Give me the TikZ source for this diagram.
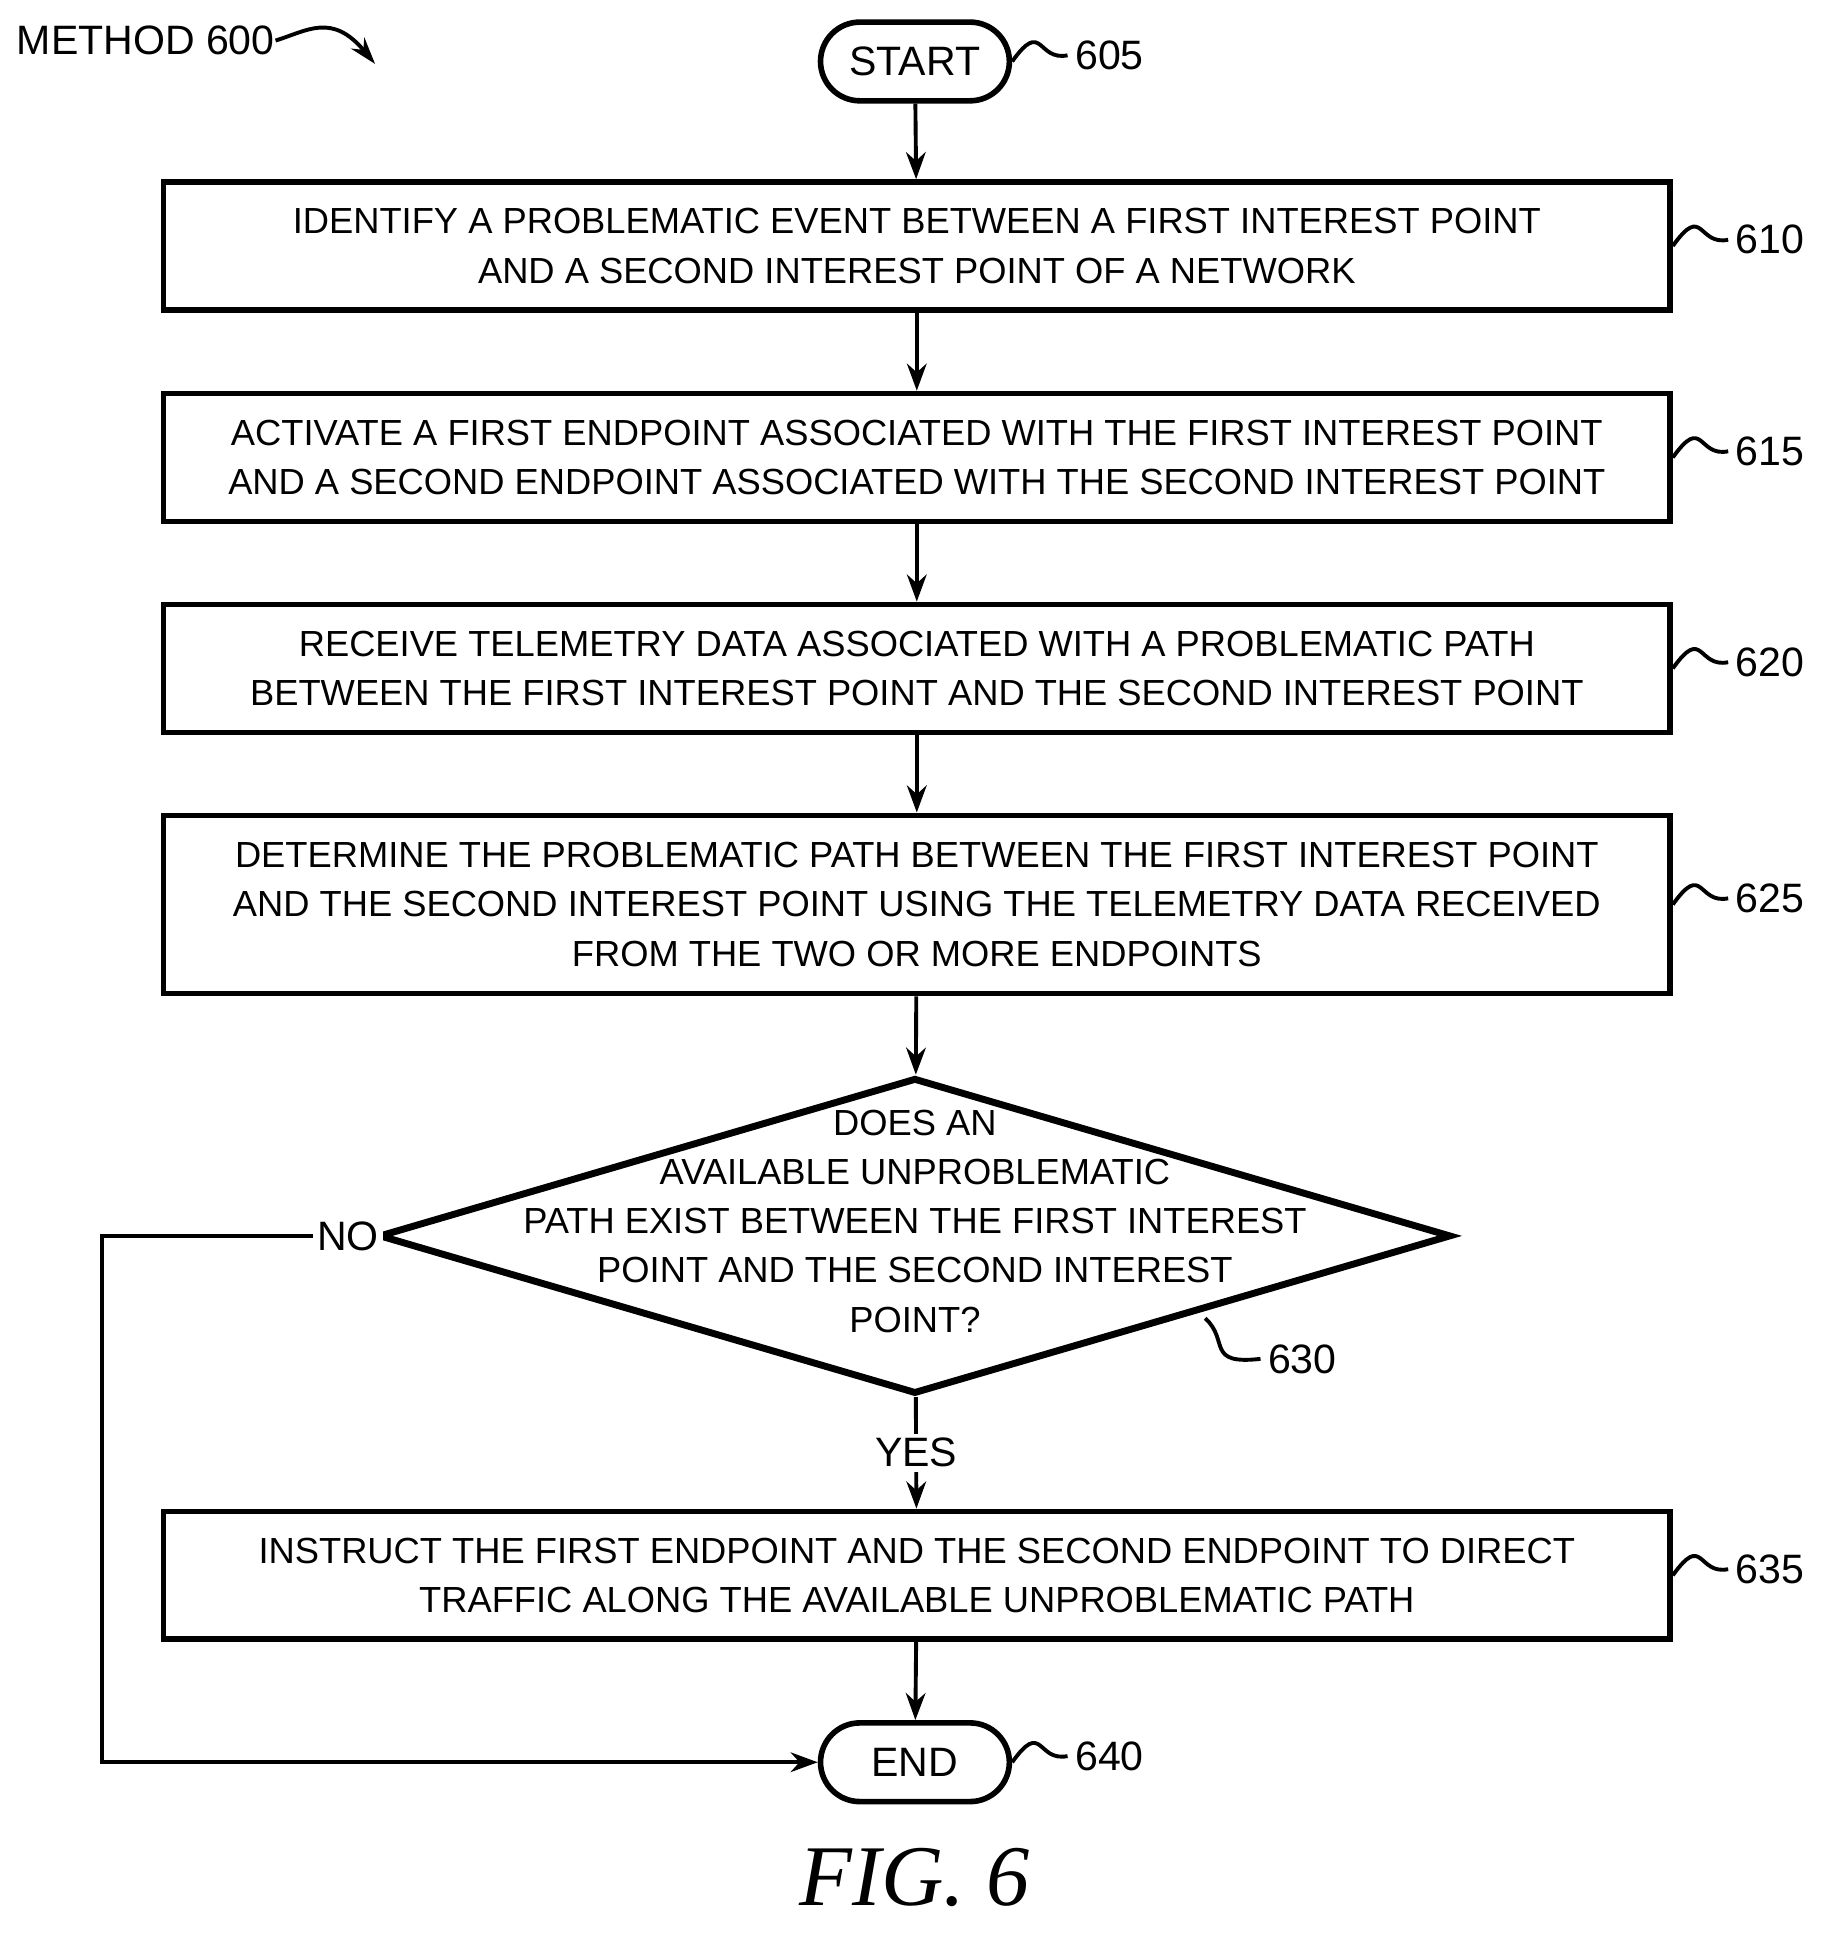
\documentclass[tikz,border=0pt]{standalone}
\usepackage{fontspec}
\setmainfont{Liberation Sans}
\newfontfamily\figfont{Liberation Serif}
\usetikzlibrary{shapes.misc,shapes.geometric,arrows.meta}

\newcommand{\reflab}[3]{% from, label position, text
  \draw[line width=0.9pt] (#1) .. controls +(0.25,0.35) and +(-0.25,-0.05) .. ++(0.45,0.05) coordinate (tmp);
  \node[anchor=west,inner sep=1pt,font=\fontsize{9.5}{11}\selectfont] at ([xshift=0.02cm]tmp) {#3};}

\begin{document}
\begin{tikzpicture}[
        font=\fontsize{8.4}{11.4}\selectfont,
        procbox/.style={draw,line width=1.3pt,minimum width=12.25cm,minimum height=1.04cm,align=center,inner sep=2pt},
        term/.style={draw,rounded rectangle,line width=1.3pt,minimum width=1.77cm,minimum height=0.64cm,font=\fontsize{9.5}{11}\selectfont},
        flow/.style={line width=0.9pt,-{Stealth[length=2.2mm,width=1.6mm]}}]

    \useasboundingbox (0,0) rectangle (15,-15.8);

    \node[anchor=west,inner sep=0pt,font=\fontsize{9.5}{11}\selectfont] (meth) at (0.13,-0.33) {METHOD 600};
    \draw[line width=0.9pt,-{Stealth[length=2.2mm,width=1.4mm]}] (meth.east) .. controls (2.5,-0.25) and (2.7,-0.1) .. (3.05,-0.52);

    \node[term] (start) at (7.44,-0.5) {START};
    \node[procbox] (s610) at (7.455,-2.0) {IDENTIFY A PROBLEMATIC EVENT BETWEEN A FIRST INTEREST POINT\\AND A SECOND INTEREST POINT OF A NETWORK};
    \node[procbox] (s615) at (7.455,-3.72) {ACTIVATE A FIRST ENDPOINT ASSOCIATED WITH THE FIRST INTEREST POINT\\AND A SECOND ENDPOINT ASSOCIATED WITH THE SECOND INTEREST POINT};
    \node[procbox] (s620) at (7.455,-5.435) {RECEIVE TELEMETRY DATA ASSOCIATED WITH A PROBLEMATIC PATH\\BETWEEN THE FIRST INTEREST POINT AND THE SECOND INTEREST POINT};
    \node[procbox,minimum height=1.45cm] (s625) at (7.455,-7.355) {DETERMINE THE PROBLEMATIC PATH BETWEEN THE FIRST INTEREST POINT\\AND THE SECOND INTEREST POINT USING THE TELEMETRY DATA RECEIVED\\FROM THE TWO OR MORE ENDPOINTS};
    \node[draw,diamond,line width=1.6pt,aspect=3.39,minimum width=8.72cm,minimum height=2.57cm,inner sep=0pt] (q630) at (7.44,-10.05) {};
    \node[align=center] (q630t) at (7.44,-9.93) {DOES AN\\AVAILABLE UNPROBLEMATIC\\PATH EXIST BETWEEN THE FIRST INTEREST\\POINT AND THE SECOND INTEREST\\POINT?};
    \node[procbox] (s635) at (7.455,-12.81) {INSTRUCT THE FIRST ENDPOINT AND THE SECOND ENDPOINT TO DIRECT\\TRAFFIC ALONG THE AVAILABLE UNPROBLEMATIC PATH};
    \node[term] (end) at (7.44,-14.33) {END};

    \draw[flow] (start) -- (s610);
    \draw[flow] (s610) -- (s615);
    \draw[flow] (s615) -- (s620);
    \draw[flow] (s620) -- (s625);
    \draw[flow] (s625) -- (q630);
    \draw[flow] (q630) -- node[fill=white,inner sep=1pt,font=\fontsize{9.5}{11}\selectfont]{YES} (s635);
    \draw[flow] (s635) -- (end);
    \draw[flow] (q630.west) -- node[pos=0.1,fill=white,inner sep=1pt,font=\fontsize{9.5}{11}\selectfont]{NO} (0.83,-10.05) |- (end.west);

    \reflab{start.east}{}{605}
    \reflab{s610.east}{}{610}
    \reflab{s615.east}{}{615}
    \reflab{s620.east}{}{620}
    \reflab{s625.east}{}{625}
    \reflab{s635.east}{}{635}
    \reflab{end.east}{}{640}
    \draw[line width=0.9pt] (9.8,-10.72) .. controls (10.0,-10.9) and (9.8,-11.1) .. (10.25,-11.05);
    \node[anchor=west,inner sep=1pt,font=\fontsize{9.5}{11}\selectfont] (n630) at (10.27,-11.05) {630};

    \node[font=\figfont\itshape\fontsize{20}{24}\selectfont] (fig) at (7.44,-15.27) {FIG. 6};
\end{tikzpicture}
\end{document}
